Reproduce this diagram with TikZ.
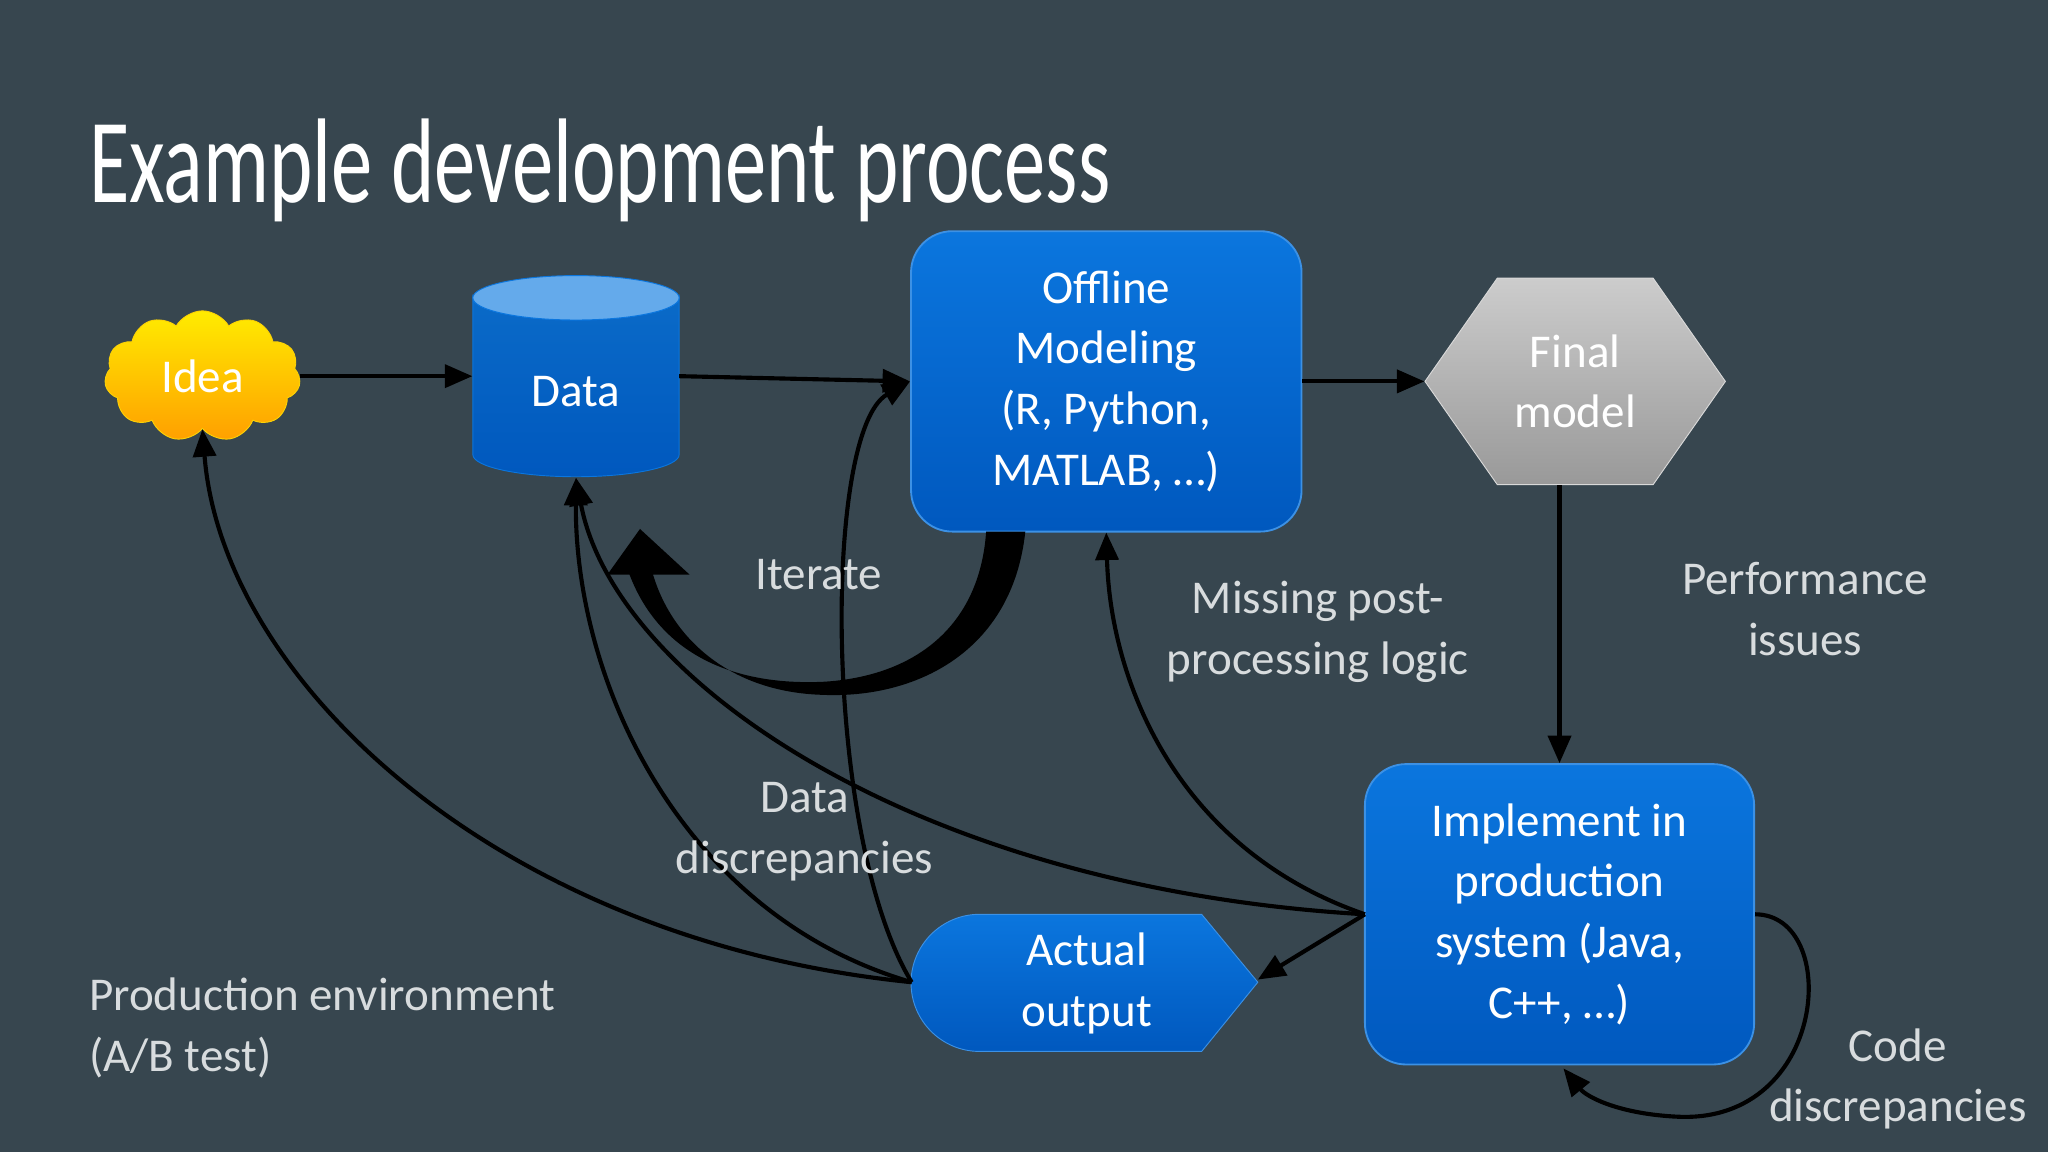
\documentclass[tikz,border=0pt]{standalone}
\usepackage{fontspec}
\setmainfont{Carlito}
\usetikzlibrary{shapes.geometric,shapes.symbols,arrows.meta}
\definecolor{bg}{HTML}{37464F}
\definecolor{txt}{HTML}{D8DCDE}
\definecolor{bluetop}{HTML}{0B76DE}
\definecolor{bluebot}{HTML}{0058BE}
\definecolor{cyltop}{RGB}{100,170,235}
\begin{document}
\begin{tikzpicture}[x=0.02cm,y=-0.02cm,
  every node/.style={font=\fontsize{20.5}{26.5}\selectfont},
  lbl/.style={text=txt,align=center},
  box/.style={rounded corners=18pt,draw=bluetop!80!white,line width=0.8pt,top color=bluetop,bottom color=bluebot,text=white,align=center,inner sep=0pt},
  arr/.style={-{Triangle[length=12pt,width=10pt]},line width=1.8pt,black}]
\fill[bg] (0,0) rectangle (1568,882);
\useasboundingbox (0,0) rectangle (1568,882);
\node[anchor=base west,text=white,inner sep=0] (title) at (68,155) {\scalebox{0.72}[1.05]{\fontsize{50}{56}\selectfont Example development process}};
% Idea
\node[cloud,cloud puffs=11,cloud puff arc=120,aspect=1.5,minimum width=150*0.02cm,minimum height=100*0.02cm,top color=yellow!85!orange,bottom color=orange!75!yellow,draw=yellow!70!orange,text=white] (idea) at (155,288) {Idea};
% Data cylinder
\draw[bottom color=bluebot,top color=bluetop!90!black,draw=bluetop] (362,228) -- (362,348) arc (180:0:79 and 17) -- (520,228) arc (0:180:79 and 17) -- cycle;
\draw[fill=cyltop,draw=bluetop] (441,228) ellipse (79 and 17);
\node[minimum width=158*0.02cm,minimum height=155*0.02cm] (data) at (441,288) {};
\node[text=white] (datat) at (441,300) {Data};
% Offline
\node[box,minimum width=299*0.02cm,minimum height=230*0.02cm] (off) at (847,292) {Offline\\Modeling\\(R, Python,\\MATLAB, \dots)};
% Final
\node[signal,signal to=west and east,signal pointer angle=110,minimum width=230*0.02cm,minimum height=158*0.02cm,inner sep=0,top color=gray!40,bottom color=gray!80,draw=gray!30,text=white,align=center] (fin) at (1206,292) {Final\\model};
% Implement
\node[box,minimum width=298*0.02cm,minimum height=230*0.02cm] (impl) at (1194,700) {Implement in\\production\\system (Java,\\C++, \dots)};
% Actual output
\draw[draw=bluetop!80!white,top color=bluetop,bottom color=bluebot] (750,700) -- (920,700) -- (963,752) -- (920,805) -- (750,805) arc (90:270:52.5) -- cycle;
\node[text=white,align=center] (act) at (832,753) {Actual\\output};
\coordinate (actL) at (698,752);
\coordinate (implL) at (1045,700);
% straight arrows
\draw[arr] (idea.east) -- (data.west|-idea.east);
\draw[arr] (520,288) -- (off.west);
\draw[arr] (off.east) -- (fin.west);
\draw[arr] (impl.north|-fin.south) -- (impl.north);
\draw[arr] (implL) -- (963,750);
% curves
\draw[arr] (implL) .. controls (700,680) and (470,520) .. (data.south);
\draw[arr] (implL) .. controls (900,650) and (850,520) .. (off.south);
\draw[arr] (actL) .. controls (380,720) and (170,520) .. (idea.south);
\draw[arr] (actL) .. controls (520,700) and (440,520) .. (data.south);
\draw[arr] (actL) .. controls (630,640) and (630,330) .. (off.west);
\draw[arr] (impl.east) .. controls (1410,700) and (1400,860) .. (1285,855) .. controls (1240,853) and (1215,840) .. (1197,818);
% Iterate thick arrow
\fill[black] (785,407) .. controls (775,500) and (700,535) .. (630,532) .. controls (560,530) and (515,490) .. (500,440)
  -- (528,440) -- (490,405) -- (465,440) -- (482,440)
  .. controls (505,500) and (560,525) .. (630,522) .. controls (700,518) and (750,480) .. (755,407) -- cycle;
% labels
\node[lbl] (it) at (627,440) {Iterate};
\node[lbl] (mp) at (1009,484) {Missing post-\\processing logic};
\node[lbl] (pi) at (1382,466) {Performance\\issues};
\node[lbl] (dd) at (616,637) {Data\\discrepancies};
\node[lbl,align=left,anchor=west] (pe) at (62,787) {Production environment\\(A/B test)};
\node[lbl] (cd) at (1453,826) {Code\\discrepancies};
\end{tikzpicture}
\end{document}
